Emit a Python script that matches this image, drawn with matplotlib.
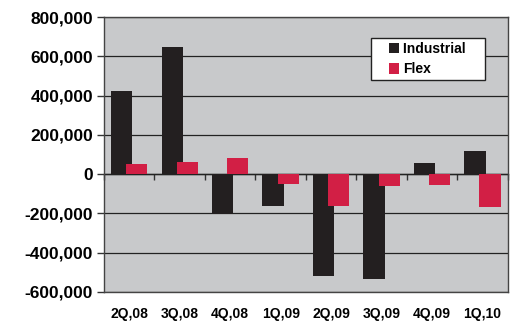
import numpy as np
import matplotlib as mpl
import matplotlib.pyplot as plt
from matplotlib.ticker import FuncFormatter, NullFormatter
from matplotlib.patches import Rectangle
from matplotlib.container import BarContainer
from matplotlib.legend_handler import HandlerPatch, update_from_first_child
mpl.use('Agg')
plt.rcParams['font.family'] = ['Liberation Sans', 'DejaVu Sans']
plt.rcParams['font.weight'] = 'bold'

quarters = ["2Q,08", "3Q,08", "4Q,08", "1Q,09", "2Q,09", "3Q,09", "4Q,09", "1Q,10"]
industrial = [425000, 650000, -202000, -161000, -518000, -533000, 58000, 119000]
flex = [51000, 61000, 81000, -49000, -161000, -60000, -56000, -168000]

BLACK = "#231f20"
RED = "#d21f45"
BG = "#c8c9cb"

fig = plt.figure(figsize=(5.16, 3.23), dpi=100)
ax = fig.add_axes([0.2016, 0.096, 0.7824, 0.851])
ax.set_facecolor(BG)

x = np.arange(len(quarters))
ax.bar(x - 0.15, industrial, width=0.42, color=BLACK, zorder=3, label="Industrial    ")
ax.bar(x + 0.15, flex, width=0.42, color=RED, zorder=4, label="Flex")

ymin, ymax = -600000, 800000
ax.set_ylim(ymin, ymax)
ax.set_xlim(-0.5, len(quarters) - 0.5)
ax.set_yticks(np.arange(ymin, ymax + 1, 200000))
ax.yaxis.set_major_formatter(FuncFormatter(lambda v, p: f"{int(v):,}"))
ax.tick_params(axis='y', direction='out', length=5, width=1, color="#333333",
               labelsize=12.5, pad=3)
ax.grid(axis='y', color="#222222", linewidth=0.9, zorder=1)

ax.set_xticks(x)
ax.set_xticklabels(quarters)
ax.tick_params(axis='x', length=0, labelsize=10, pad=11)

for s in ax.spines.values():
    s.set_color("#444444")
    s.set_linewidth(1.0)

# category axis drawn on the zero line
zero_frac = (0 - ymin) / (ymax - ymin)
sec = ax.secondary_xaxis(zero_frac)
sec.set_xticks(np.arange(-0.5, len(quarters), 1.0))
sec.xaxis.set_major_formatter(NullFormatter())
sec.xaxis.set_ticks_position('bottom')
sec.tick_params(direction='out', length=4, width=1, color="#333333")
sec.spines['bottom'].set_color("#222222")
sec.spines['bottom'].set_linewidth(1.0)
sec.spines['top'].set_visible(False)


def square_patch(legend, orig_handle, xdescent, ydescent, width, height, fontsize):
    s = 0.75 * fontsize
    return Rectangle((-xdescent + width - s, -ydescent + (height - s) / 2), s, s)


leg = ax.legend(loc='upper left', bbox_to_anchor=(0.661, 0.925), fontsize=10,
                frameon=True, fancybox=False, edgecolor="#222222", facecolor="white",
                framealpha=1, handlelength=1.75, handleheight=0.75, handletextpad=0.25,
                borderpad=0.3, labelspacing=0.45, borderaxespad=0,
                handler_map={BarContainer: HandlerPatch(patch_func=square_patch,
                                                        update_func=update_from_first_child)})
leg.get_frame().set_linewidth(1.0)
leg.set_zorder(10)

plt.savefig("out.png", dpi=100)
plt.close(fig)
